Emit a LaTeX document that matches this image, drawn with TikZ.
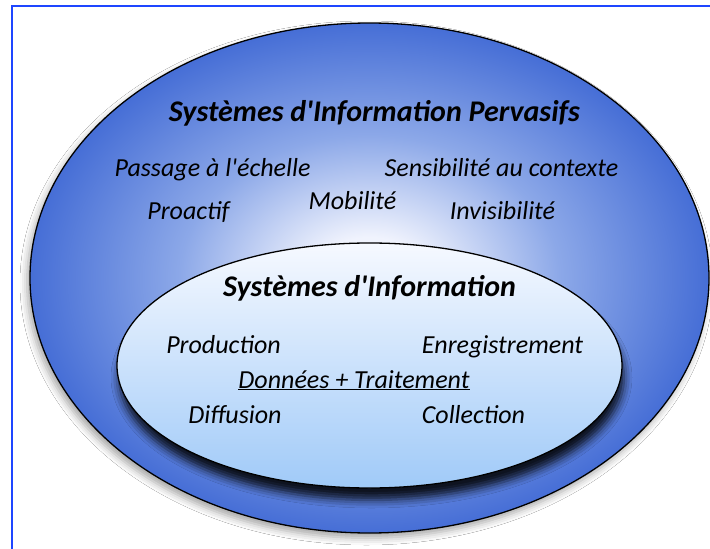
\documentclass[tikz,border=0pt]{standalone}
\usepackage{fontspec}
\setmainfont{Carlito}[Ligatures=TeXOff]
\usetikzlibrary{shadows.blur}
\definecolor{ocenter}{RGB}{240,243,253}
\definecolor{omid}{RGB}{140,168,232}
\definecolor{oedge}{RGB}{70,110,214}
\definecolor{itop}{RGB}{246,249,255}
\definecolor{ibot}{RGB}{160,202,248}
\definecolor{frameblue}{RGB}{30,70,255}
\pgfdeclareradialshading{outerglow}{\pgfpoint{0bp}{0bp}}{color(0bp)=(ocenter); color(4bp)=(ocenter); color(14bp)=(omid); color(25bp)=(oedge); color(50bp)=(oedge)}
\tikzset{
  txt/.style={inner sep=0pt, font=\fontsize{26}{30}\selectfont\itshape, anchor=base},
  ttl/.style={inner sep=0pt, font=\fontsize{30}{34}\selectfont\bfseries\itshape, anchor=base},
  ring/.style={draw=black, line width=1.3pt}
}
\begin{document}
\begin{tikzpicture}[x=1pt,y=-1pt]
\useasboundingbox (0,0) rectangle (710,549);
\fill[white] (0,0) rectangle (710,549);
\draw[frameblue, line width=2.2pt] (12,560) -- (12,6) -- (720,6);
% outer ellipse
\path[ring, shading=outerglow, blur shadow={shadow xshift=-3pt, shadow yshift=-5pt, shadow blur radius=7pt, shadow opacity=35}]
  (369.5,278) ellipse [x radius=339.5, y radius=255];
% inner ellipse
\path[ring, top color=itop, bottom color=ibot, blur shadow={shadow xshift=2pt, shadow yshift=-12pt, shadow blur radius=8pt, shadow opacity=85}]
  (369.5,365.5) ellipse [x radius=252.5, y radius=122.5];
% outer texts
\node[ttl] (t1) at (374.5,121) {Systèmes d'Information Pervasifs};
\node[txt] (pass) at (212.5,176) {Passage à l'échelle};
\node[txt] (sens) at (501.5,176) {Sensibilité au contexte};
\node[txt] (mob) at (352.5,209) {Mobilité};
\node[txt] (pro) at (188.5,219) {Proactif};
\node[txt] (inv) at (502.5,219) {Invisibilité};
% inner texts
\node[ttl] (t2) at (369.5,296) {Systèmes d'Information};
\node[txt] (prod) at (223.5,353) {Production};
\node[txt] (enr) at (502.5,353) {Enregistrement};
\node[txt] (don) at (354,388) {\underline{Données + Traitement}};
\node[txt] (dif) at (235,423) {Diffusion};
\node[txt] (col) at (473.5,423) {Collection};
\end{tikzpicture}
\end{document}
